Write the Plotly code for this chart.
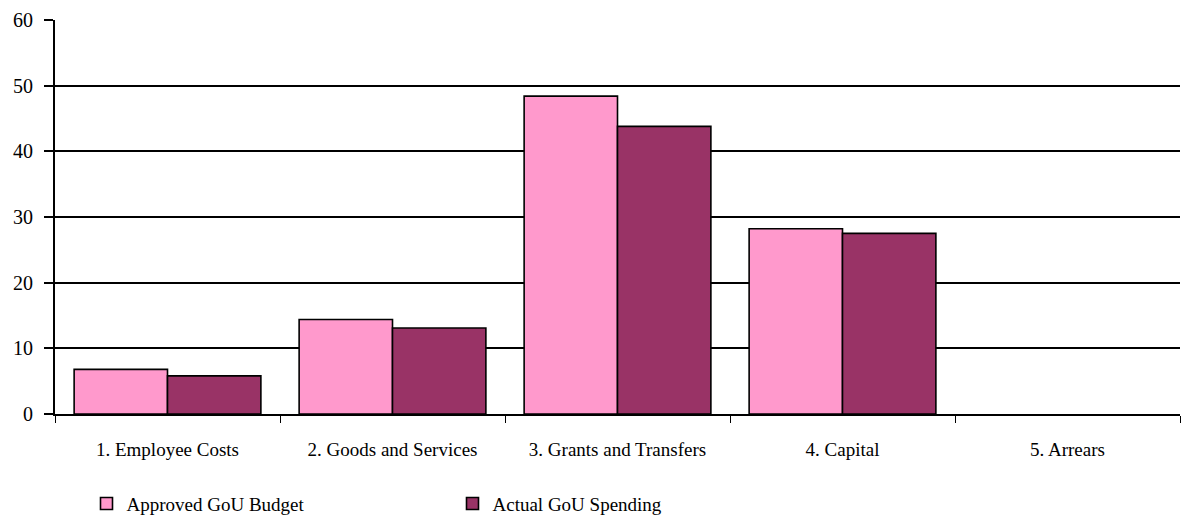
import plotly.graph_objects as go

categories = ["1. Employee Costs", "2. Goods and Services", "3. Grants and Transfers", "4. Capital", "5. Arrears"]
approved = [6.8, 14.4, 48.4, 28.2, 0]
actual = [5.8, 13.1, 43.8, 27.5, 0]
y_ticks = [0, 10, 20, 30, 40, 50, 60]

font = "Liberation Serif, Times New Roman, serif"


def outline(values):
    return [1.6 if v > 0 else 0 for v in values]


fig = go.Figure()
fig.add_trace(go.Bar(name="Approved GoU Budget", x=categories, y=approved,
                     marker=dict(color="#FF99CC", line=dict(color="black", width=outline(approved)))))
fig.add_trace(go.Bar(name="Actual GoU Spending", x=categories, y=actual,
                     marker=dict(color="#993366", line=dict(color="black", width=outline(actual)))))

fig.update_layout(
    width=1188, height=515,
    margin=dict(l=55, r=8, t=20, b=101),
    paper_bgcolor="white", plot_bgcolor="white",
    barmode="group", bargap=0.17, bargroupgap=0,
    font=dict(family=font, size=19, color="black"),
    showlegend=True,
    legend=dict(orientation="h", x=0.028, xanchor="left", yref="container", y=0.022, yanchor="middle",
                entrywidth=321, entrywidthmode="pixels", bgcolor="rgba(0,0,0,0)",
                font=dict(family=font, size=19, color="black"), itemwidth=30),
)
fig.update_xaxes(type="category", tickson="boundaries", ticks="outside", ticklen=7,
                 tickcolor="black", showline=True, linecolor="black", linewidth=2,
                 showgrid=False, ticklabelstandoff=17, tickfont=dict(size=19))
fig.update_yaxes(range=[0, 60], tickvals=y_ticks, ticks="outside", ticklen=9,
                 tickcolor="black", tickwidth=1.5, showline=True, linecolor="black", linewidth=2,
                 showgrid=True, gridcolor="black", gridwidth=1.5, zeroline=False,
                 tickfont=dict(size=20), ticklabelstandoff=7)

fig.write_html("out.html")
